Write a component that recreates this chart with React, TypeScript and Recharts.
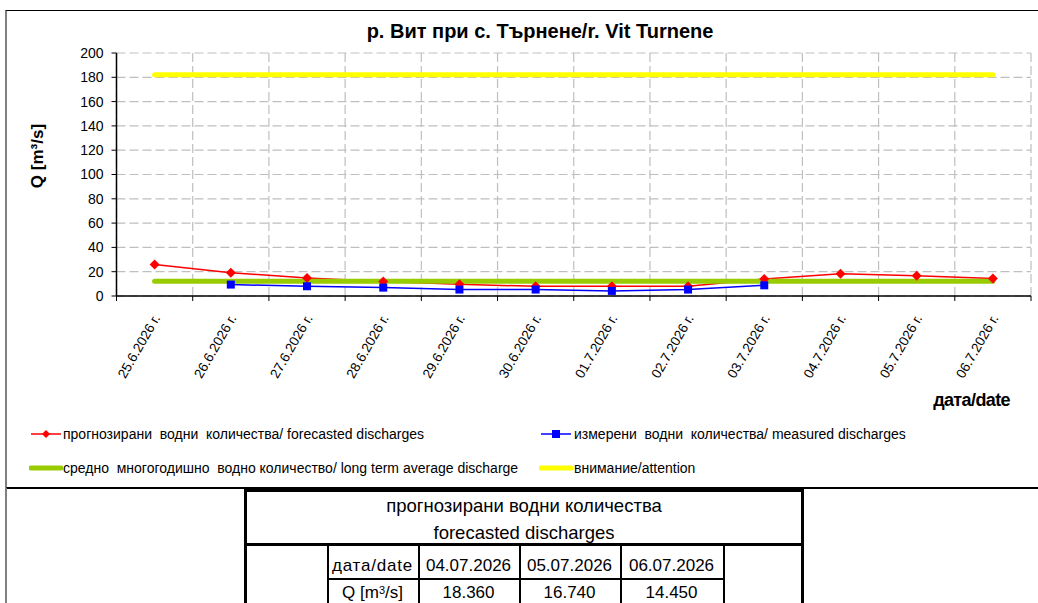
import React from "react";
import { LineChart, Line, XAxis, YAxis, CartesianGrid } from "recharts";

// dates on the category axis
const dates = [
  "25.6.2026 г.",
  "26.6.2026 г.",
  "27.6.2026 г.",
  "28.6.2026 г.",
  "29.6.2026 г.",
  "30.6.2026 г.",
  "01.7.2026 г.",
  "02.7.2026 г.",
  "03.7.2026 г.",
  "04.7.2026 г.",
  "05.7.2026 г.",
  "06.7.2026 г.",
];
const forecasted = [26.0, 19.2, 14.8, 12.0, 9.6, 8.0, 8.0, 8.0, 14.0, 18.36, 16.74, 14.45];
const measured = [null, 9.4, 8.0, 6.9, 5.3, 5.3, 4.2, 5.3, 8.8, null, null, null];
const longTermAvg = [12.1, 12.1, 12.1, 12.1, 12.1, 12.1, 12.1, 12.1, 12.1, 12.1, 12.1, 12.1];
const attention = [182, 182, 182, 182, 182, 182, 182, 182, 182, 182, 182, 182];
const yTicks = [0, 20, 40, 60, 80, 100, 120, 140, 160, 180, 200];

// forecast table
const tableDates = ["04.07.2026", "05.07.2026", "06.07.2026"];
const tableValues = ["18.360", "16.740", "14.450"];

const data = dates.map((d, i) => ({
  i,
  date: d,
  forecasted: forecasted[i],
  measured: measured[i],
  avg: longTermAvg[i],
  attention: attention[i],
}));

// ticks sit on the borders between dates, like in Excel
const gridTicks = [...dates.map((_, i) => i - 0.5), dates.length - 0.5];

const FONT = "Arial, 'Liberation Sans', sans-serif";
const CHART_W = 1038;
const Y_AXIS_W = 116.5;
const RIGHT = 7;
const HALF_BAND = (CHART_W - Y_AXIS_W - RIGHT) / dates.length / 2;

const Diamond = (props: any) => {
  const { cx, cy } = props;
  if (cx == null || cy == null) return null;
  return <polygon points={`${cx},${cy - 5} ${cx + 5},${cy} ${cx},${cy + 5} ${cx - 5},${cy}`} fill="#FF0000" />;
};

const Square = (props: any) => {
  const { cx, cy } = props;
  if (cx == null || cy == null) return null;
  return <rect x={cx - 4} y={cy - 4} width={8} height={8} fill="#0000FF" />;
};

const DateTick = (props: any) => {
  const { x, y, payload } = props;
  const idx = payload.value + 0.5;
  if (idx >= dates.length) return null;
  const tx = x + HALF_BAND + 6;
  const ty = y + 15;
  return (
    <text
      x={tx}
      y={ty}
      transform={`rotate(-60 ${tx} ${ty})`}
      textAnchor="end"
      fontSize={13.5}
      fontFamily={FONT}
      fill="#000"
    >
      {dates[idx]}
    </text>
  );
};

const legendText: React.CSSProperties = {
  position: "absolute",
  fontSize: 14,
  fontFamily: FONT,
  whiteSpace: "pre",
  lineHeight: "16px",
  color: "#000",
};

function LegendSample({ x, y, color, thick, marker }: { x: number; y: number; color: string; thick?: boolean; marker?: "diamond" | "square" }) {
  return (
    <svg style={{ position: "absolute", left: x, top: y - 6 }} width={34} height={12}>
      <line
        x1={2}
        y1={6}
        x2={32}
        y2={6}
        stroke={color}
        strokeWidth={thick ? 5 : 1.5}
        strokeLinecap={thick ? "round" : "butt"}
      />
      {marker === "diamond" && <polygon points="17,2 21,6 17,10 13,6" fill={color} />}
      {marker === "square" && <rect x={13} y={2} width={8} height={8} fill={color} />}
    </svg>
  );
}

const cell: React.CSSProperties = {
  position: "absolute",
  fontSize: 17,
  fontFamily: FONT,
  textAlign: "center",
  color: "#000",
  lineHeight: "20px",
  whiteSpace: "nowrap",
};

export default function App() {
  return (
    <div style={{ position: "absolute", left: 0, top: 0, width: 1038, height: 603, background: "#fff", overflow: "hidden" }}>
      {/* chart frame */}
      <div style={{ position: "absolute", left: 5, top: 10, width: 1040, height: 476, borderLeft: "2px solid #808080", borderTop: "1px solid #000", borderBottom: "2px solid #000" }} />
      <div style={{ position: "absolute", left: 5, top: 488, width: 2, height: 120, background: "#808080" }} />

      <div style={{ position: "absolute", left: 0, top: 0 }}>
        <LineChart width={CHART_W} height={487} data={data} margin={{ top: 53, right: RIGHT, bottom: 65, left: 0 }}>
          <CartesianGrid stroke="#BFBFBF" strokeDasharray="9 4" strokeWidth={1.2} />
          <XAxis
            type="number"
            dataKey="i"
            domain={[-0.5, dates.length - 0.5]}
            ticks={gridTicks}
            interval={0}
            tickSize={5}
            height={126}
            axisLine={{ stroke: "#000", strokeWidth: 1.5 }}
            tickLine={{ stroke: "#000" }}
            tick={<DateTick />}
            label={{
              content: () => (
                <text x={1010} y={406} textAnchor="end" fontSize={18} fontWeight="bold" fontFamily={FONT} letterSpacing={-0.6}>
                  дата/date
                </text>
              ),
            }}
          />
          <YAxis
            domain={[0, 200]}
            ticks={yTicks}
            width={Y_AXIS_W}
            tickSize={5}
            tickMargin={8}
            interval={0}
            axisLine={{ stroke: "#000", strokeWidth: 1.5 }}
            tickLine={{ stroke: "#000" }}
            tick={{ fontSize: 14, fontFamily: FONT, fill: "#000" }}
            label={{
              content: () => (
                <text x={43} y={156} transform="rotate(-90 43 156)" textAnchor="middle" fontSize={17} fontWeight="bold" fontFamily={FONT}>
                  Q [m³/s]
                </text>
              ),
            }}
          />
          <Line dataKey="forecasted" stroke="#FF0000" strokeWidth={1.5} dot={<Diamond />} activeDot={false} isAnimationActive={false} />
          <Line dataKey="measured" stroke="#0000FF" strokeWidth={1.5} dot={<Square />} activeDot={false} isAnimationActive={false} />
          <Line dataKey="avg" stroke="#99CC00" strokeWidth={5} dot={false} activeDot={false} strokeLinecap="round" isAnimationActive={false} />
          <Line dataKey="attention" stroke="#FFFF00" strokeWidth={5} dot={false} activeDot={false} strokeLinecap="round" isAnimationActive={false} />
        </LineChart>
      </div>

      {/* title */}
      <div style={{ position: "absolute", left: 290, width: 500, top: 19, textAlign: "center", fontSize: 20, fontWeight: "bold", fontFamily: FONT, lineHeight: "24px" }}>
        р. Вит при с. Търнене/r. Vit Turnene
      </div>

      {/* legend */}
      <LegendSample x={29} y={434} color="#FF0000" marker="diamond" />
      <div style={{ ...legendText, left: 63, top: 426 }}>{"прогнозирани  водни  количества/ forecasted discharges"}</div>
      <LegendSample x={539} y={434} color="#0000FF" marker="square" />
      <div style={{ ...legendText, left: 574, top: 426 }}>{"измерени  водни  количества/ measured discharges"}</div>
      <LegendSample x={29} y={468} color="#99CC00" thick />
      <div style={{ ...legendText, left: 63, top: 460 }}>{"средно  многогодишно  водно количество/ long term average discharge"}</div>
      <LegendSample x={539} y={468} color="#FFFF00" thick />
      <div style={{ ...legendText, left: 574, top: 460 }}>{"внимание/attention"}</div>

      {/* forecast table */}
      <div style={{ position: "absolute", left: 244, top: 489, width: 560, height: 130, border: "3px solid #000", boxSizing: "border-box" }} />
      <div style={{ position: "absolute", left: 244, top: 543, width: 560, height: 3, background: "#000" }} />
      <div style={{ ...cell, fontSize: 18.5, left: 244, width: 560, top: 496 }}>прогнозирани водни количества</div>
      <div style={{ ...cell, fontSize: 18.5, left: 244, width: 560, top: 523 }}>forecasted discharges</div>
      {[327, 418, 519, 620, 723].map((x) => (
        <div key={x} style={{ position: "absolute", left: x, top: 546, width: 1.5, height: 70, background: "#000" }} />
      ))}
      <div style={{ position: "absolute", left: 327, top: 578, width: 397, height: 1.5, background: "#000" }} />
      <div style={{ ...cell, left: 327, width: 91, top: 556, letterSpacing: 0.8 }}>дата/date</div>
      <div style={{ ...cell, left: 327, width: 91, top: 583 }}>
        Q [m<sup style={{ fontSize: 11, verticalAlign: "top", position: "relative", top: -3 }}>3</sup>/s]
      </div>
      {tableDates.map((d, k) => {
        const xs = [418, 519, 620, 723];
        return (
          <React.Fragment key={d}>
            <div style={{ ...cell, left: xs[k], width: xs[k + 1] - xs[k], top: 556 }}>{d}</div>
            <div style={{ ...cell, left: xs[k], width: xs[k + 1] - xs[k], top: 583 }}>{tableValues[k]}</div>
          </React.Fragment>
        );
      })}
    </div>
  );
}
